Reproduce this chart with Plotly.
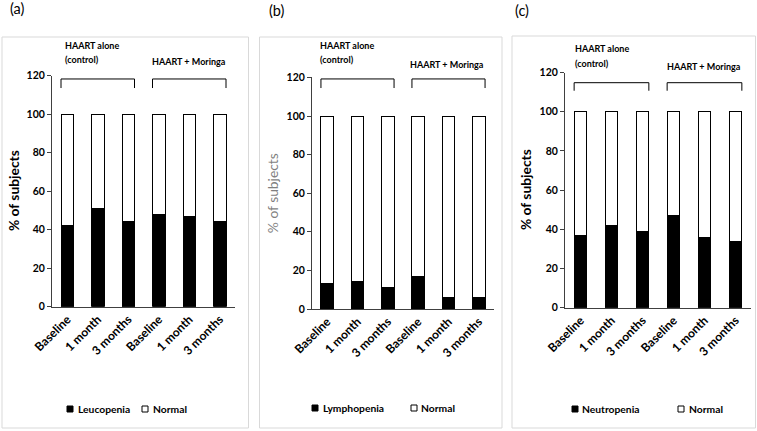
import plotly.graph_objects as go

W, H = 757, 431

categories = ["Baseline", "1 month", "3 months", "Baseline", "1 month", "3 months"]
leucopenia = [42, 51, 44, 48, 47, 44]
normal_a = [58, 49, 56, 52, 53, 56]
lymphopenia = [13, 14, 11, 17, 6, 6]
normal_b = [87, 86, 89, 83, 94, 94]
neutropenia = [37, 42, 39, 47, 36, 34]
normal_c = [63, 58, 61, 53, 64, 66]
y_ticks = [0, 20, 40, 60, 80, 100, 120]
group_names = ["HAART alone", "(control)", "HAART + Moringa"]
panel_labels = ["(a)", "(b)", "(c)"]
y_title = "% of subjects"

FONT = "Lato, Carlito, Calibri, 'Liberation Sans', sans-serif"

panels = [
    dict(cond="Leucopenia", vals=leucopenia, norm=normal_a,
         ax=(52, 235), ay=(306.7, 75.5), frame=(2, 37, 248.5, 428),
         lab=(8, 9), grp=(63, 45, 60, 150, 62), br=(118.2, 113.5),
         ytitle=(13, True), leg=(67, 76, 142, 151, 409)),
    dict(cond="Lymphopenia", vals=lymphopenia, norm=normal_b,
         ax=(312, 494), ay=(309, 77.4), frame=(259.5, 37, 502, 428),
         lab=(267, 10), grp=(318, 45, 60, 408, 64), br=(119.2, 114.5),
         ytitle=(272, False), leg=(312, 321, 411, 419, 408)),
    dict(cond="Neutropenia", vals=neutropenia, norm=normal_c,
         ax=(565, 751), ay=(307.7, 72.5), frame=(512, 36, 755.5, 428),
         lab=(513, 11), grp=(572.7, 48, 63, 665, 66), br=(114.8, 110.7),
         ytitle=(525, True), leg=(572, 580, 678, 687, 409)),
]

fig = go.Figure()
x_idx = list(range(len(categories)))
shapes, annos = [], []


def px(x, y):
    return x / W, 1 - y / H


for i, p in enumerate(panels):
    n = "" if i == 0 else str(i + 1)
    xa, ya = "x" + n, "y" + n
    fig.add_trace(go.Bar(x=x_idx, y=p["vals"], name=p["cond"], xaxis=xa, yaxis=ya,
                         marker=dict(color="black", line=dict(color="black", width=1)),
                         showlegend=False))
    fig.add_trace(go.Bar(x=x_idx, y=p["norm"], name="Normal", xaxis=xa, yaxis=ya,
                         marker=dict(color="white", line=dict(color="black", width=1)),
                         showlegend=False))
    y0, y1 = p["ay"]
    fig.update_layout(**{
        "xaxis" + n: dict(domain=[p["ax"][0] / W, p["ax"][1] / W], anchor=ya,
                          range=[-0.5, 5.5], tickmode="array", tickvals=x_idx,
                          ticktext=categories, tickangle=-45, showline=True,
                          linecolor="#404040", linewidth=1, ticks="", showgrid=False,
                          zeroline=False, fixedrange=True, automargin=False,
                          tickfont=dict(family=FONT, size=12, color="black", weight="bold")),
        "yaxis" + n: dict(domain=[1 - y0 / H, 1 - y1 / H], anchor=xa, range=[0, 120],
                          tickmode="array", tickvals=y_ticks, showline=True,
                          linecolor="#404040", linewidth=1, ticks="outside", ticklen=4,
                          tickcolor="#404040", showgrid=False, zeroline=False,
                          automargin=False,
                          tickfont=dict(family=FONT, size=10.5, color="black", weight="bold")),
    })
    # frame
    fx0, fy0, fx1, fy1 = p["frame"]
    a, b = px(fx0, fy0)
    c, d = px(fx1, fy1)
    shapes.append(dict(type="rect", xref="paper", yref="paper", x0=a, x1=c, y0=d, y1=b,
                       line=dict(color="#d9d9d9", width=1), fillcolor="rgba(0,0,0,0)",
                       layer="below"))
    # brackets
    top, end = p["br"]
    for g0, g1 in [(0, 2), (3, 5)]:
        l, r = x_idx[g0] - 0.205, x_idx[g1] + 0.205
        shapes.append(dict(type="path", xref=xa, yref=ya,
                           path=f"M {l},{end} L {l},{top} L {r},{top} L {r},{end}",
                           line=dict(color="black", width=1)))
    # group texts
    gx1, gy1, gy2, gx2, gy3 = p["grp"]
    for txt, (tx, ty) in zip(group_names, [(gx1, gy1), (gx1, gy2), (gx2, gy3)]):
        xx, yy = px(tx, ty)
        annos.append(dict(text=txt, x=xx, y=yy, xref="paper", yref="paper",
                          xanchor="left", yanchor="middle", showarrow=False,
                          font=dict(family=FONT, size=9, color="black", weight="bold")))
    # panel label
    lx, ly = px(*p["lab"])
    annos.append(dict(text=panel_labels[i], x=lx, y=ly, xref="paper", yref="paper",
                      xanchor="left", yanchor="middle", showarrow=False,
                      font=dict(family=FONT, size=14.5, color="black")))
    # y title
    tx, bold = p["ytitle"]
    xx, _ = px(tx, 0)
    annos.append(dict(text=y_title, x=xx, y=1 - ((y0 + y1) / 2) / H, xref="paper",
                      yref="paper", xanchor="center", yanchor="middle", textangle=-90,
                      showarrow=False,
                      font=dict(family=FONT, size=13.8,
                                color="black" if bold else "#7f7f7f",
                                weight="bold" if bold else "normal")))
    # legend
    sq1, t1, sq2, t2, ly = p["leg"]
    for sx, fill in [(sq1, "black"), (sq2, "white")]:
        a0, b0 = px(sx, ly - 3)
        a1, b1 = px(sx + 6, ly + 3)
        shapes.append(dict(type="rect", xref="paper", yref="paper", x0=a0, x1=a1,
                           y0=b1, y1=b0, fillcolor=fill,
                           line=dict(color="black", width=1)))
    for txt, tx in [(p["cond"], t1), ("Normal", t2)]:
        xx, yy = px(tx, ly)
        annos.append(dict(text=txt, x=xx, y=yy, xref="paper", yref="paper",
                          xanchor="left", yanchor="middle", showarrow=False,
                          font=dict(family=FONT, size=10.3, color="black", weight="bold")))

fig.update_layout(width=W, height=H, margin=dict(l=0, r=0, t=0, b=0, autoexpand=False),
                  barmode="stack", bargap=0.59, plot_bgcolor="white",
                  paper_bgcolor="white", shapes=shapes, annotations=annos,
                  showlegend=False, hovermode=False)

fig.write_html("out.html", config={"displayModeBar": False},
               post_script="document.body.style.margin='0px';"
                           "document.body.style.overflow='hidden';")
